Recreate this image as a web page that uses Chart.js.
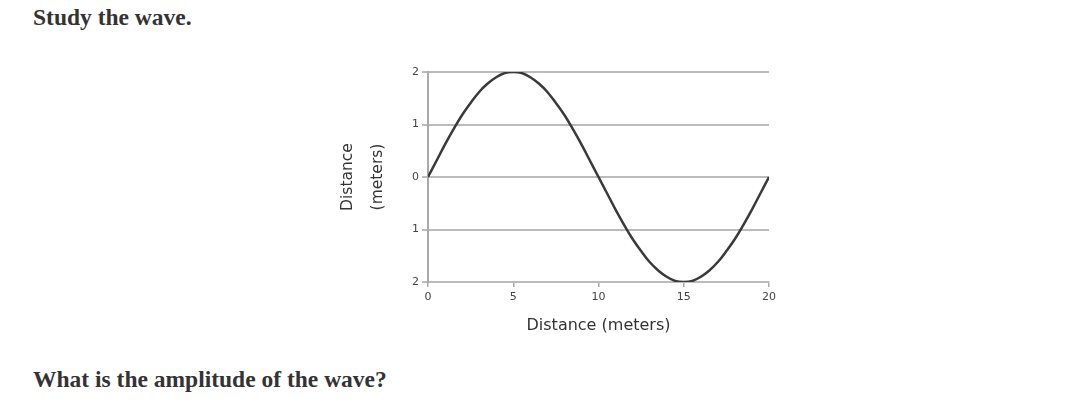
<!DOCTYPE html>
<html>
<head>
<meta charset="utf-8">
<script src="https://cdn.jsdelivr.net/npm/chart.js@4/dist/chart.umd.min.js"></script>
<style>
  html, body { margin: 0; padding: 0; background: #fff; }
  body { width: 1070px; height: 406px; position: relative; overflow: hidden; }
  .q { position: absolute; left: 33px; font: bold 23.5px "Liberation Serif", "Times New Roman", serif; line-height: 23.5px; color: #333; white-space: nowrap; }
  #top { top: 6px; }
  #bottom { top: 368px; }
  #wrap { position: absolute; left: 320px; top: 60px; width: 470px; height: 285px; }
</style>
</head>
<body>
<div class="q" id="top">Study the wave.</div>
<div id="wrap"><canvas id="waveChart"></canvas></div>
<div class="q" id="bottom">What is the amplitude of the wave?</div>
<script>
// distance along the wave (meters) and displacement
const distances = [0, 0.5, 1, 1.5, 2, 2.5, 3, 3.5, 4, 4.5, 5, 5.5, 6, 6.5, 7, 7.5, 8, 8.5, 9, 9.5, 10,
  10.5, 11, 11.5, 12, 12.5, 13, 13.5, 14, 14.5, 15, 15.5, 16, 16.5, 17, 17.5, 18, 18.5, 19, 19.5, 20];
const heights = [0, 0.31, 0.62, 0.91, 1.18, 1.41, 1.62, 1.78, 1.9, 1.98, 2, 1.98, 1.9, 1.78, 1.62, 1.41, 1.18, 0.91, 0.62, 0.31, 0,
  -0.31, -0.62, -0.91, -1.18, -1.41, -1.62, -1.78, -1.9, -1.98, -2, -1.98, -1.9, -1.78, -1.62, -1.41, -1.18, -0.91, -0.62, -0.31, 0];
const xTicks = [0, 5, 10, 15, 20];
const yTickValues = [-2, -1, 0, 1, 2];
const yTickLabels = ["2", "1", "0", "1", "2"];

document.addEventListener("DOMContentLoaded", function () {
  const ctx = document.getElementById("waveChart").getContext("2d");
  const tickFont = { family: "DejaVu Sans", size: 11 };

  new Chart(ctx, {
    type: "line",
    data: {
      datasets: [{
        data: distances.map((d, i) => ({ x: d, y: heights[i] })),
        borderColor: "#3a3a3a",
        borderWidth: 2.5,
        pointRadius: 0,
        tension: 0.4,
        fill: false
      }]
    },
    options: {
      responsive: true,
      maintainAspectRatio: false,
      animation: false,
      layout: { padding: { top: 12, right: 21, left: 0, bottom: 0 } },
      plugins: { legend: { display: false }, tooltip: { enabled: false } },
      scales: {
        x: {
          type: "linear",
          min: 0,
          max: 20,
          afterBuildTicks: axis => { axis.ticks = xTicks.map(v => ({ value: v })); },
          afterFit: axis => { axis.height = 63; },
          grid: { drawOnChartArea: false, drawTicks: true, tickLength: 5, color: "#aaa", lineWidth: 1.5 },
          border: { color: "#bbb", width: 2 },
          ticks: { color: "#444", font: tickFont, padding: 4, maxRotation: 0 },
          title: { display: true, text: "Distance (meters)", color: "#333", font: { family: "DejaVu Sans", size: 16 }, padding: { top: 0, bottom: 10 } }
        },
        y: {
          min: -2,
          max: 2,
          afterBuildTicks: axis => { axis.ticks = yTickValues.map(v => ({ value: v })); },
          afterFit: axis => { axis.width = 108; },
          grid: { color: "#bbb", lineWidth: 2, tickLength: 6 },
          border: { color: "#aaa", width: 2 },
          ticks: {
            color: "#444",
            font: tickFont,
            padding: 3,
            callback: value => yTickLabels[yTickValues.indexOf(value)]
          },
          title: {
            display: true,
            text: ["Distance", "(meters)"],
            color: "#333",
            font: { family: "DejaVu Sans", size: 15.5, lineHeight: "30px" },
            padding: { top: 13, bottom: 0 }
          }
        }
      }
    }
  });
});
</script>
</body>
</html>
